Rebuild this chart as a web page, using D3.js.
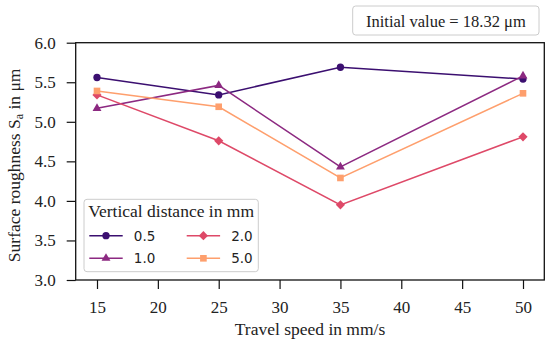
<!DOCTYPE html>
<html>
<head>
<meta charset="utf-8">
<script src="https://cdn.jsdelivr.net/npm/d3@7"></script>
<style>
	body { margin: 0; background: #fff; }
	svg text { font-family: "Liberation Serif", "DejaVu Serif", serif; fill: #222; }
</style>
</head>
<body>
<svg id="chart"></svg>
<script>
var speeds = [15, 25, 35, 50];
var seriesNames = ["0.5", "1.0", "2.0", "5.0"];
var values05 = [5.56, 5.34, 5.69, 5.54];
var values10 = [5.17, 5.46, 4.43, 5.58];
var values20 = [5.34, 4.76, 3.95, 4.81];
var values50 = [5.39, 5.19, 4.29, 5.36];
var colors = ["#3b0f70", "#8c2981", "#de4968", "#fe9f6d"];
var markers = ["circle", "triangle", "diamond", "square"];
var xTicks = [15, 20, 25, 30, 35, 40, 45, 50];
var yTicks = [3.0, 3.5, 4.0, 4.5, 5.0, 5.5, 6.0];

var width = 550, height = 343;
var margin = {left: 75.7, top: 42.7, right: 5.7, bottom: 63};
var w = width - margin.left - margin.right;
var h = height - margin.top - margin.bottom;

var svg = d3.select("#chart")
	.attr("width", width)
	.attr("height", height);

var g = svg.append("g")
	.attr("transform", "translate(" + margin.left + "," + margin.top + ")");

var x = d3.scaleLinear().domain([13.25, 51.75]).range([0, w]);
var y = d3.scaleLinear().domain([3, 6]).range([h, 0]);

// axes
var xAxis = g.append("g")
	.attr("transform", "translate(0," + h + ")")
	.call(d3.axisBottom(x).tickValues(xTicks).tickSize(9).tickPadding(12).tickFormat(d3.format("d")));
var yAxis = g.append("g")
	.call(d3.axisLeft(y).tickValues(yTicks).tickSize(9).tickPadding(11).tickFormat(d3.format(".1f")));
[xAxis, yAxis].forEach(function(a) {
	a.select(".domain").remove();
	a.selectAll("line").attr("stroke", "#111").attr("stroke-width", 1.2);
	a.selectAll("text").style("font-size", "17px").attr("fill", "#222");
});

g.append("rect")
	.attr("width", w)
	.attr("height", h)
	.attr("fill", "none")
	.attr("stroke", "#111")
	.attr("stroke-width", 1.3);

// series
var allSeries = [values05, values10, values20, values50];
var line = d3.line()
	.x(function(d, i) { return x(speeds[i]); })
	.y(function(d) { return y(d); });

function markerPath(type) {
	if (type == "circle") return d3.symbol(d3.symbolCircle, 42)();
	if (type == "triangle") return d3.symbol(d3.symbolTriangle, 34)();
	if (type == "diamond") return "M0,-4.6L4.6,0L0,4.6L-4.6,0Z";
	return d3.symbol(d3.symbolSquare, 44)();
}

allSeries.forEach(function(vals, s) {
	g.append("path")
		.datum(vals)
		.attr("d", line)
		.attr("fill", "none")
		.attr("stroke", colors[s])
		.attr("stroke-width", 1.5);
	g.selectAll(".m" + s)
		.data(vals)
		.enter().append("path")
		.attr("class", "m" + s)
		.attr("transform", function(d, i) { return "translate(" + x(speeds[i]) + "," + y(d) + ")"; })
		.attr("d", markerPath(markers[s]))
		.attr("fill", colors[s]);
});

// axis labels
svg.append("text")
	.attr("x", margin.left + w / 2)
	.attr("y", 335)
	.attr("text-anchor", "middle")
	.style("font-size", "17.5px")
	.text("Travel speed in mm/s");

var yl = svg.append("text")
	.attr("transform", "translate(20," + (margin.top + h / 2 + 4) + ") rotate(-90)")
	.attr("text-anchor", "middle")
	.style("font-size", "17.5px");
yl.append("tspan").text("Surface roughness S");
yl.append("tspan").attr("dy", 3).style("font-size", "12px").text("a");
yl.append("tspan").attr("dy", -3).text(" in μm");

// legend
var leg = svg.append("g").attr("transform", "translate(84,199.3)");
leg.append("rect")
	.attr("width", 174.3)
	.attr("height", 72.4)
	.attr("rx", 3)
	.attr("fill", "#fff")
	.attr("fill-opacity", 0.85)
	.attr("stroke", "#ccc");
leg.append("text")
	.attr("x", 4.3)
	.attr("y", 17.5)
	.style("font-size", "17.5px")
	.text("Vertical distance in mm");

var cols = [5.3, 102.7];
var rows = [36.4, 59];
seriesNames.forEach(function(name, s) {
	var cx = cols[Math.floor(s / 2)];
	var cy = rows[s % 2];
	var item = leg.append("g").attr("transform", "translate(" + cx + "," + cy + ")");
	item.append("line")
		.attr("x1", 0).attr("x2", 33.4)
		.attr("stroke", colors[s])
		.attr("stroke-width", 1.5);
	item.append("path")
		.attr("transform", "translate(16.7,0)")
		.attr("d", markerPath(markers[s]))
		.attr("fill", colors[s]);
	item.append("text")
		.attr("x", 44.5)
		.attr("y", 5)
		.style("font-family", "'DejaVu Sans', sans-serif")
		.style("font-size", "13.5px")
		.text(name);
});

// initial value box
var box = svg.append("g").attr("transform", "translate(352.7,6)");
box.append("rect")
	.attr("width", 186.3)
	.attr("height", 29)
	.attr("rx", 3)
	.attr("fill", "#fff")
	.attr("stroke", "#ccc");
box.append("text")
	.attr("x", 186.3 / 2)
	.attr("y", 21.3)
	.attr("text-anchor", "middle")
	.style("font-size", "16.5px")
	.text("Initial value = 18.32 μm");
</script>
</body>
</html>
